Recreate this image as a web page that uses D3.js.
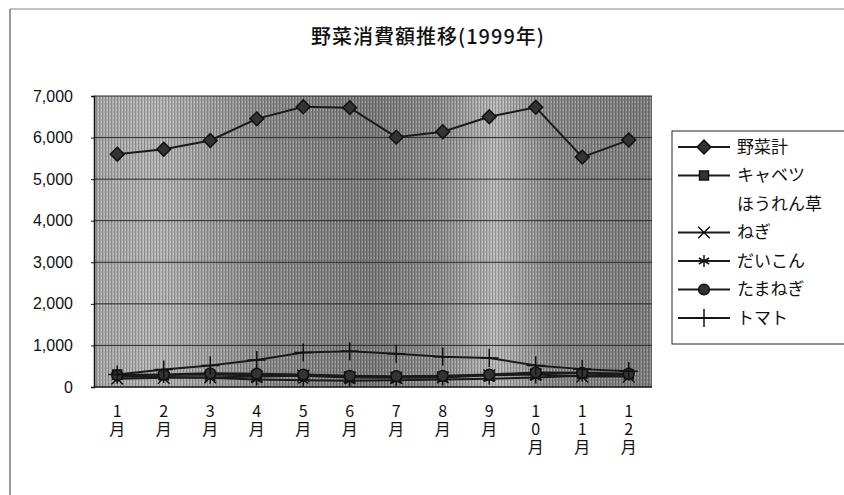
<!DOCTYPE html>
<html>
<head>
<meta charset="utf-8">
<script src="https://cdn.jsdelivr.net/npm/d3@7"></script>
<style>
  body { margin: 0; background: #fff; }
  svg { display: block; }
</style>
</head>
<body>
<div id="chart"></div>
<script>
// data
const months = ["1月", "2月", "3月", "4月", "5月", "6月", "7月", "8月", "9月", "10月", "11月", "12月"];
const yTicks = [0, 1000, 2000, 3000, 4000, 5000, 6000, 7000];
const seriesNames = ["野菜計", "キャベツ", "ほうれん草", "ねぎ", "だいこん", "たまねぎ", "トマト"];

const yasaiTotal = [5600, 5720, 5930, 6450, 6740, 6720, 6010, 6140, 6500, 6730, 5530, 5940];
const cabbage   = [300, 290, 300, 280, 270, 250, 240, 250, 280, 330, 330, 300];
const spinach   = [220, 190, 160, 130, 100, 90, 80, 90, 120, 170, 210, 250];
const negi      = [200, 220, 230, 250, 270, 230, 220, 230, 280, 300, 250, 250];
const daikon    = [250, 240, 220, 180, 160, 150, 160, 180, 200, 230, 270, 300];
const tamanegi  = [280, 300, 330, 320, 300, 270, 260, 270, 300, 350, 340, 320];
const tomato    = [300, 420, 520, 650, 830, 860, 800, 730, 700, 520, 430, 380];

const canvWidth = 844, canvHeight = 495;
const plot = {left: 94, top: 96, right: 652, bottom: 387};

const svg = d3.select('#chart')
    .append('svg')
    .attr('width', canvWidth)
    .attr('height', canvHeight);

const jpFont = '"Noto Sans CJK JP", sans-serif';
const numFont = '"Liberation Sans", Arial, sans-serif';

// outer chart frame (only top and left edges are in the scan)
svg.append('line')
    .attr('x1', 10).attr('y1', 9).attr('x2', 844).attr('y2', 9)
    .attr('stroke', '#888').attr('stroke-width', 1);
svg.append('line')
    .attr('x1', 10).attr('y1', 9).attr('x2', 10).attr('y2', 495)
    .attr('stroke', '#777').attr('stroke-width', 1.5);

// title
svg.append('text')
    .attr('x', 428)
    .attr('y', 44)
    .attr('text-anchor', 'middle')
    .style('font-family', jpFont)
    .style('font-size', '20px')
    .style('font-weight', 500)
    .style('letter-spacing', '1px')
    .style('fill', '#111')
    .text('野菜消費額推移(1999年)');

// scales
const xScale = d3.scaleBand()
    .domain(months)
    .range([plot.left, plot.right]);
const yScale = d3.scaleLinear()
    .domain([0, 7000])
    .range([plot.bottom, plot.top]);

// plot area background: grey gradient + halftone-ish stripes
const defs = svg.append('defs');
const grad = defs.append('linearGradient')
    .attr('id', 'bg')
    .attr('x1', '0').attr('x2', '1').attr('y1', '0').attr('y2', '0');
[[0, '#a9a9a9'], [0.12, '#b4b4b4'], [0.3, '#8c8c8c'], [0.5, '#7c7c7c'],
 [0.62, '#8e8e8e'], [0.72, '#b8b8b8'], [0.82, '#8a8a8a'], [1, '#7e7e7e']]
    .forEach(s => grad.append('stop').attr('offset', s[0]).attr('stop-color', s[1]));

const pat = defs.append('pattern')
    .attr('id', 'stripes')
    .attr('width', 3).attr('height', 4)
    .attr('patternUnits', 'userSpaceOnUse');
pat.append('rect').attr('x', 0).attr('y', 0).attr('width', 1).attr('height', 4).attr('fill', '#000').attr('opacity', 0.22);
pat.append('rect').attr('x', 2).attr('y', 1).attr('width', 1).attr('height', 2).attr('fill', '#fff').attr('opacity', 0.25);

svg.append('rect')
    .attr('x', plot.left).attr('y', plot.top)
    .attr('width', plot.right - plot.left).attr('height', plot.bottom - plot.top)
    .attr('fill', 'url(#bg)');
svg.append('rect')
    .attr('x', plot.left).attr('y', plot.top)
    .attr('width', plot.right - plot.left).attr('height', plot.bottom - plot.top)
    .attr('fill', 'url(#stripes)');

// gridlines
svg.append('g')
    .selectAll('line')
    .data(yTicks.filter(d => d > 0))
    .enter()
    .append('line')
    .attr('x1', plot.left).attr('x2', plot.right)
    .attr('y1', d => yScale(d)).attr('y2', d => yScale(d))
    .attr('stroke', '#2a2a2a')
    .attr('stroke-width', 1);

// y axis
const yAxis = svg.append('g')
    .attr('transform', `translate(${plot.left},0)`)
    .call(d3.axisLeft(yScale).tickValues(yTicks).tickFormat(d3.format(',')).tickSize(3).tickPadding(18));
yAxis.select('.domain').attr('stroke', '#111').attr('stroke-width', 1.5);
yAxis.selectAll('.tick line').attr('stroke', '#111');
yAxis.selectAll('text')
    .style('font-family', numFont)
    .style('font-size', '16px')
    .style('fill', '#111');

// x axis line
svg.append('line')
    .attr('x1', plot.left).attr('x2', plot.right)
    .attr('y1', plot.bottom).attr('y2', plot.bottom)
    .attr('stroke', '#111').attr('stroke-width', 1.5);

// x labels, written vertically (one character per line, upright)
svg.append('g')
    .selectAll('text')
    .data(months)
    .enter()
    .append('text')
    .attr('x', d => xScale(d) + xScale.bandwidth() / 2)
    .attr('y', 403)
    .style('writing-mode', 'vertical-rl')
    .style('text-orientation', 'upright')
    .style('letter-spacing', '2px')
    .style('font-family', jpFont)
    .style('font-size', '16px')
    .style('fill', '#111')
    .text(d => d);

// marker shapes
const symbolFor = {
    diamond: d3.symbol().type(d3.symbolSquare).size(95),
    square: d3.symbol().type(d3.symbolSquare).size(80),
    x: d3.symbol().type(d3.symbolX).size(90),
    asterisk: d3.symbol().type(d3.symbolAsterisk).size(100),
    circle: d3.symbol().type(d3.symbolCircle).size(90),
    plus: d3.symbol().type(d3.symbolPlus).size(110)
};
const rotateFor = {diamond: 45};

const series = [
    {name: seriesNames[0], values: yasaiTotal, marker: 'diamond', fill: '#333'},
    {name: seriesNames[1], values: cabbage, marker: 'square', fill: '#333'},
    {name: seriesNames[2], values: spinach, marker: null, fill: 'none'},
    {name: seriesNames[3], values: negi, marker: 'x', fill: 'none'},
    {name: seriesNames[4], values: daikon, marker: 'asterisk', fill: 'none'},
    {name: seriesNames[5], values: tamanegi, marker: 'circle', fill: '#333'},
    {name: seriesNames[6], values: tomato, marker: 'plus', fill: 'none'}
];

const line = d3.line()
    .x((d, i) => xScale(months[i]) + xScale.bandwidth() / 2)
    .y(d => yScale(d));

series.filter(s => s.marker).forEach(function (s) {
    svg.append('path')
        .datum(s.values)
        .attr('fill', 'none')
        .attr('stroke', '#1a1a1a')
        .attr('stroke-width', 2)
        .attr('d', line);
    svg.append('g')
        .selectAll('path')
        .data(s.values)
        .enter()
        .append('path')
        .attr('transform', (d, i) => `translate(${xScale(months[i]) + xScale.bandwidth() / 2},${yScale(d)}) rotate(${rotateFor[s.marker] || 0})`)
        .attr('d', symbolFor[s.marker])
        .attr('fill', s.fill)
        .attr('stroke', '#111')
        .attr('stroke-width', 1.5);
});

// legend
const legend = svg.append('g').attr('id', 'legend');
legend.append('rect')
    .attr('x', 672).attr('y', 131)
    .attr('width', 190).attr('height', 213)
    .attr('fill', '#fff')
    .attr('stroke', '#222')
    .attr('stroke-width', 1);

series.forEach(function (s, i) {
    const y = 147 + i * 28.5;
    if (s.marker) {
        legend.append('line')
            .attr('x1', 678).attr('x2', 730)
            .attr('y1', y).attr('y2', y)
            .attr('stroke', '#1a1a1a').attr('stroke-width', 2);
        legend.append('path')
            .attr('transform', `translate(704,${y}) rotate(${rotateFor[s.marker] || 0})`)
            .attr('d', symbolFor[s.marker])
            .attr('fill', s.fill)
            .attr('stroke', '#111')
            .attr('stroke-width', 1.5);
    }
    legend.append('text')
        .attr('x', 737)
        .attr('y', y)
        .attr('dy', '0.35em')
        .style('font-family', jpFont)
        .style('font-size', '17px')
        .style('fill', '#111')
        .text(s.name);
});
</script>
</body>
</html>
